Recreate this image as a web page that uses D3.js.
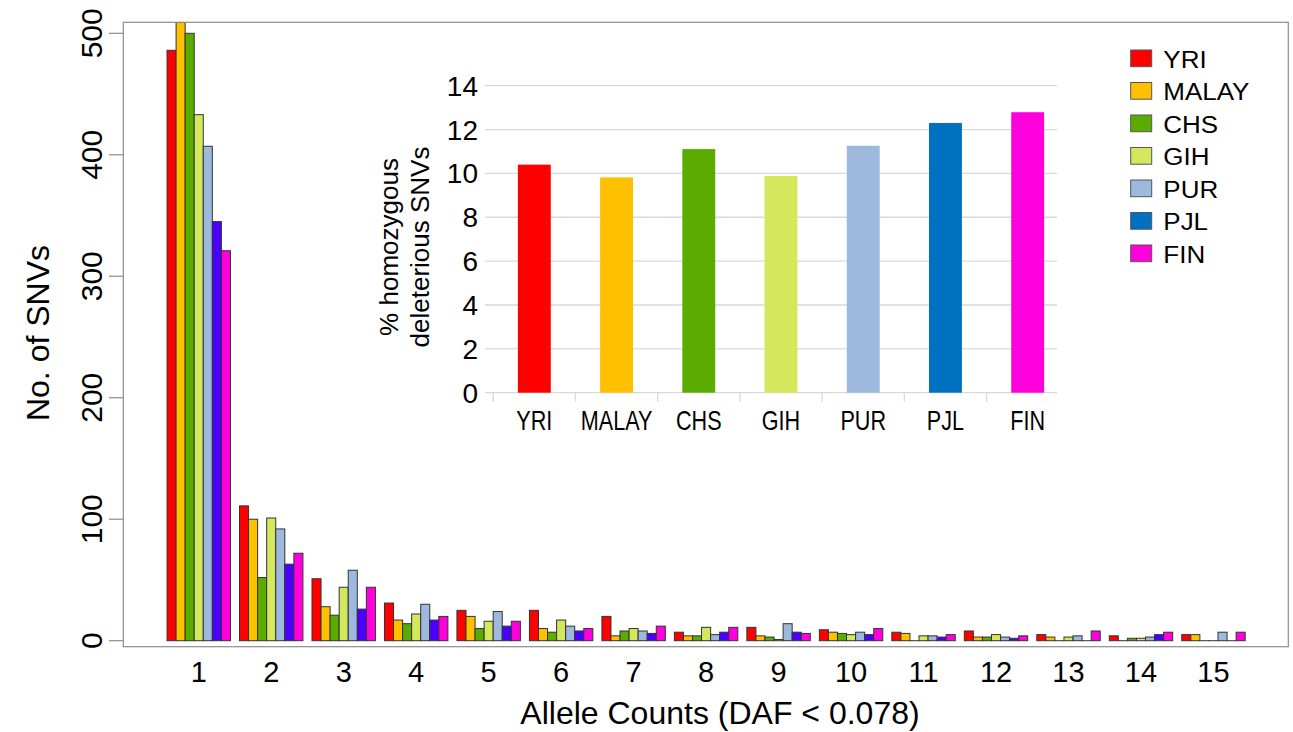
<!DOCTYPE html>
<html>
<head>
<meta charset="utf-8">
<script src="https://cdn.jsdelivr.net/npm/d3@7"></script>
<style>
  body { margin: 0; background: #fff; }
  svg { display: block; font-family: "Liberation Sans", Arial, sans-serif; }
</style>
</head>
<body>
<svg id="chart" width="1293" height="732"></svg>
<script>
// data
const populations = ["YRI", "MALAY", "CHS", "GIH", "PUR", "PJL", "FIN"];
const alleleCounts = [1, 2, 3, 4, 5, 6, 7, 8, 9, 10, 11, 12, 13, 14, 15];

const yri   = [486, 111, 51, 31, 25, 25, 20, 7, 11, 9, 7, 8, 5, 4, 5];
const malay = [509, 100, 28, 17, 20, 10, 4, 4, 4, 7, 6, 3, 3, 0, 5];
const chs   = [500, 52, 21, 14, 10, 7, 8, 4, 3, 6, 0, 3, 0, 2, 0];
const gih   = [433, 101, 44, 22, 16, 17, 10, 11, 1, 5, 4, 5, 3, 2, 0];
const pur   = [407, 92, 58, 30, 24, 12, 8, 5, 14, 7, 4, 3, 4, 3, 7];
const pjl   = [345, 63, 26, 17, 12, 8, 6, 7, 7, 5, 3, 2, 0, 5, 0];
const fin   = [321, 72, 44, 20, 16, 10, 12, 11, 6, 10, 5, 4, 8, 7, 7];

const yTicks = [0, 100, 200, 300, 400, 500];

// inset: % homozygous deleterious SNVs
const homozygousPct = [10.4, 9.82, 11.11, 9.88, 11.26, 12.3, 12.79];
const insetTicks = [0, 2, 4, 6, 8, 10, 12, 14];

// colours
const mainColors = ["#FF0000", "#FFC000", "#5AAD00", "#D4E85E", "#9DB9DD", "#4B00FF", "#FF00DD"];
const insetColors = ["#FF0000", "#FFC000", "#5AAD00", "#D4E85E", "#9DB9DD", "#0070C0", "#FF00DD"];

const series = [yri, malay, chs, gih, pur, pjl, fin];

const svg = d3.select("#chart");

// main plot box
const box = { left: 123.3, right: 1288.3, top: 22.3, bottom: 646.7 };

const x0 = d3.scaleBand()
    .domain(alleleCounts)
    .range([162.5, 1249.7])
    .paddingInner(0.125)
    .paddingOuter(0.0625);

const x1 = d3.scaleBand()
    .domain(populations)
    .range([0, x0.bandwidth()]);

const y = d3.scaleLinear()
    .domain([0, 500])
    .range([640.7, 33.3]);

// bars
svg.append("clipPath").attr("id", "boxclip")
    .append("rect")
    .attr("x", box.left).attr("y", box.top)
    .attr("width", box.right - box.left).attr("height", box.bottom - box.top);

const groups = svg.append("g").attr("clip-path", "url(#boxclip)")
    .selectAll("g")
    .data(alleleCounts)
    .join("g")
    .attr("transform", d => `translate(${x0(d)},0)`);

groups.selectAll("rect")
    .data((d, i) => populations.map((p, j) => ({ pop: p, j: j, v: series[j][i] })))
    .join("rect")
    .attr("x", d => x1(d.pop))
    .attr("y", d => y(d.v))
    .attr("width", x1.bandwidth())
    .attr("height", d => Math.max(y(0) - y(d.v), 0.01))
    .attr("fill", d => mainColors[d.j])
    .attr("stroke", "#333")
    .attr("stroke-width", 1);

// box
svg.append("rect")
    .attr("x", box.left).attr("y", box.top)
    .attr("width", box.right - box.left).attr("height", box.bottom - box.top)
    .attr("fill", "none")
    .attr("stroke", "#8c8c8c")
    .attr("stroke-width", 1.2);

// y axis ticks and labels (rotated like R)
const yAxis = svg.append("g");
yAxis.selectAll("line")
    .data(yTicks)
    .join("line")
    .attr("x1", 109).attr("x2", box.left)
    .attr("y1", d => y(d)).attr("y2", d => y(d))
    .attr("stroke", "#8c8c8c")
    .attr("stroke-width", 1.2);
yAxis.selectAll("text")
    .data(yTicks)
    .join("text")
    .attr("transform", d => `translate(102,${y(d)}) rotate(-90)`)
    .attr("text-anchor", "middle")
    .attr("font-size", 30)
    .attr("fill", "#000")
    .text(d => d);

svg.append("text")
    .attr("transform", "translate(49,333) rotate(-90)")
    .attr("text-anchor", "middle")
    .attr("font-size", 32)
    .text("No. of SNVs");

// x labels
svg.append("g").selectAll("text")
    .data(alleleCounts)
    .join("text")
    .attr("x", d => x0(d) + x0.bandwidth() / 2)
    .attr("y", 682)
    .attr("text-anchor", "middle")
    .attr("font-size", 29)
    .text(d => d);

svg.append("text")
    .attr("x", 720)
    .attr("y", 724)
    .attr("text-anchor", "middle")
    .attr("font-size", 32)
    .text("Allele Counts (DAF < 0.078)");

// legend
const legend = svg.append("g").attr("transform", "translate(1130.7,50)");
const li = legend.selectAll("g")
    .data(populations)
    .join("g")
    .attr("transform", (d, i) => `translate(0,${i * 32.5})`);
li.append("rect")
    .attr("width", 21).attr("height", 16.7)
    .attr("fill", (d, i) => insetColors[i])
    .attr("stroke", "#555")
    .attr("stroke-width", 1);
li.append("text")
    .attr("transform", "translate(32.6,17.7) scale(1.13,1)")
    .attr("font-size", 23)
    .text(d => d);

// inset chart
const ix = d3.scaleBand()
    .domain(populations)
    .range([493.2, 1068.8])
    .paddingInner(0.6)
    .paddingOuter(0.3);

const iy = d3.scaleLinear()
    .domain([0, 14])
    .range([392.7, 85.7]);

const inset = svg.append("g");

inset.selectAll("line.grid")
    .data(insetTicks)
    .join("line")
    .attr("class", "grid")
    .attr("x1", 485).attr("x2", 1057)
    .attr("y1", d => iy(d)).attr("y2", d => iy(d))
    .attr("stroke", "#d9d9d9")
    .attr("stroke-width", 1.3);

const step = ix.step();
inset.selectAll("line.sep")
    .data(d3.range(7))
    .join("line")
    .attr("class", "sep")
    .attr("x1", i => 493.2 + i * step).attr("x2", i => 493.2 + i * step)
    .attr("y1", iy(0)).attr("y2", iy(0) + 9)
    .attr("stroke", "#d9d9d9")
    .attr("stroke-width", 1.3);

inset.selectAll("rect")
    .data(populations)
    .join("rect")
    .attr("x", d => ix(d))
    .attr("y", (d, i) => iy(homozygousPct[i]))
    .attr("width", ix.bandwidth())
    .attr("height", (d, i) => iy(0) - iy(homozygousPct[i]))
    .attr("fill", (d, i) => insetColors[i]);

inset.selectAll("text.ytick")
    .data(insetTicks)
    .join("text")
    .attr("class", "ytick")
    .attr("x", 478)
    .attr("y", d => iy(d) + 10)
    .attr("text-anchor", "end")
    .attr("font-size", 28)
    .text(d => d);

inset.selectAll("text.xtick")
    .data(populations)
    .join("text")
    .attr("class", "xtick")
    .attr("transform", d => `translate(${ix(d) + ix.bandwidth() / 2},430) scale(0.8,1)`)
    .attr("text-anchor", "middle")
    .attr("font-size", 27)
    .text(d => d);

const ititle = inset.append("text")
    .attr("transform", "translate(398,247) rotate(-90)")
    .attr("text-anchor", "middle")
    .attr("font-size", 26);
ititle.append("tspan").attr("x", 0).attr("dy", 0).text("% homozygous");
ititle.append("tspan").attr("x", 0).attr("dy", 30.5).text("deleterious SNVs");
</script>
</body>
</html>
